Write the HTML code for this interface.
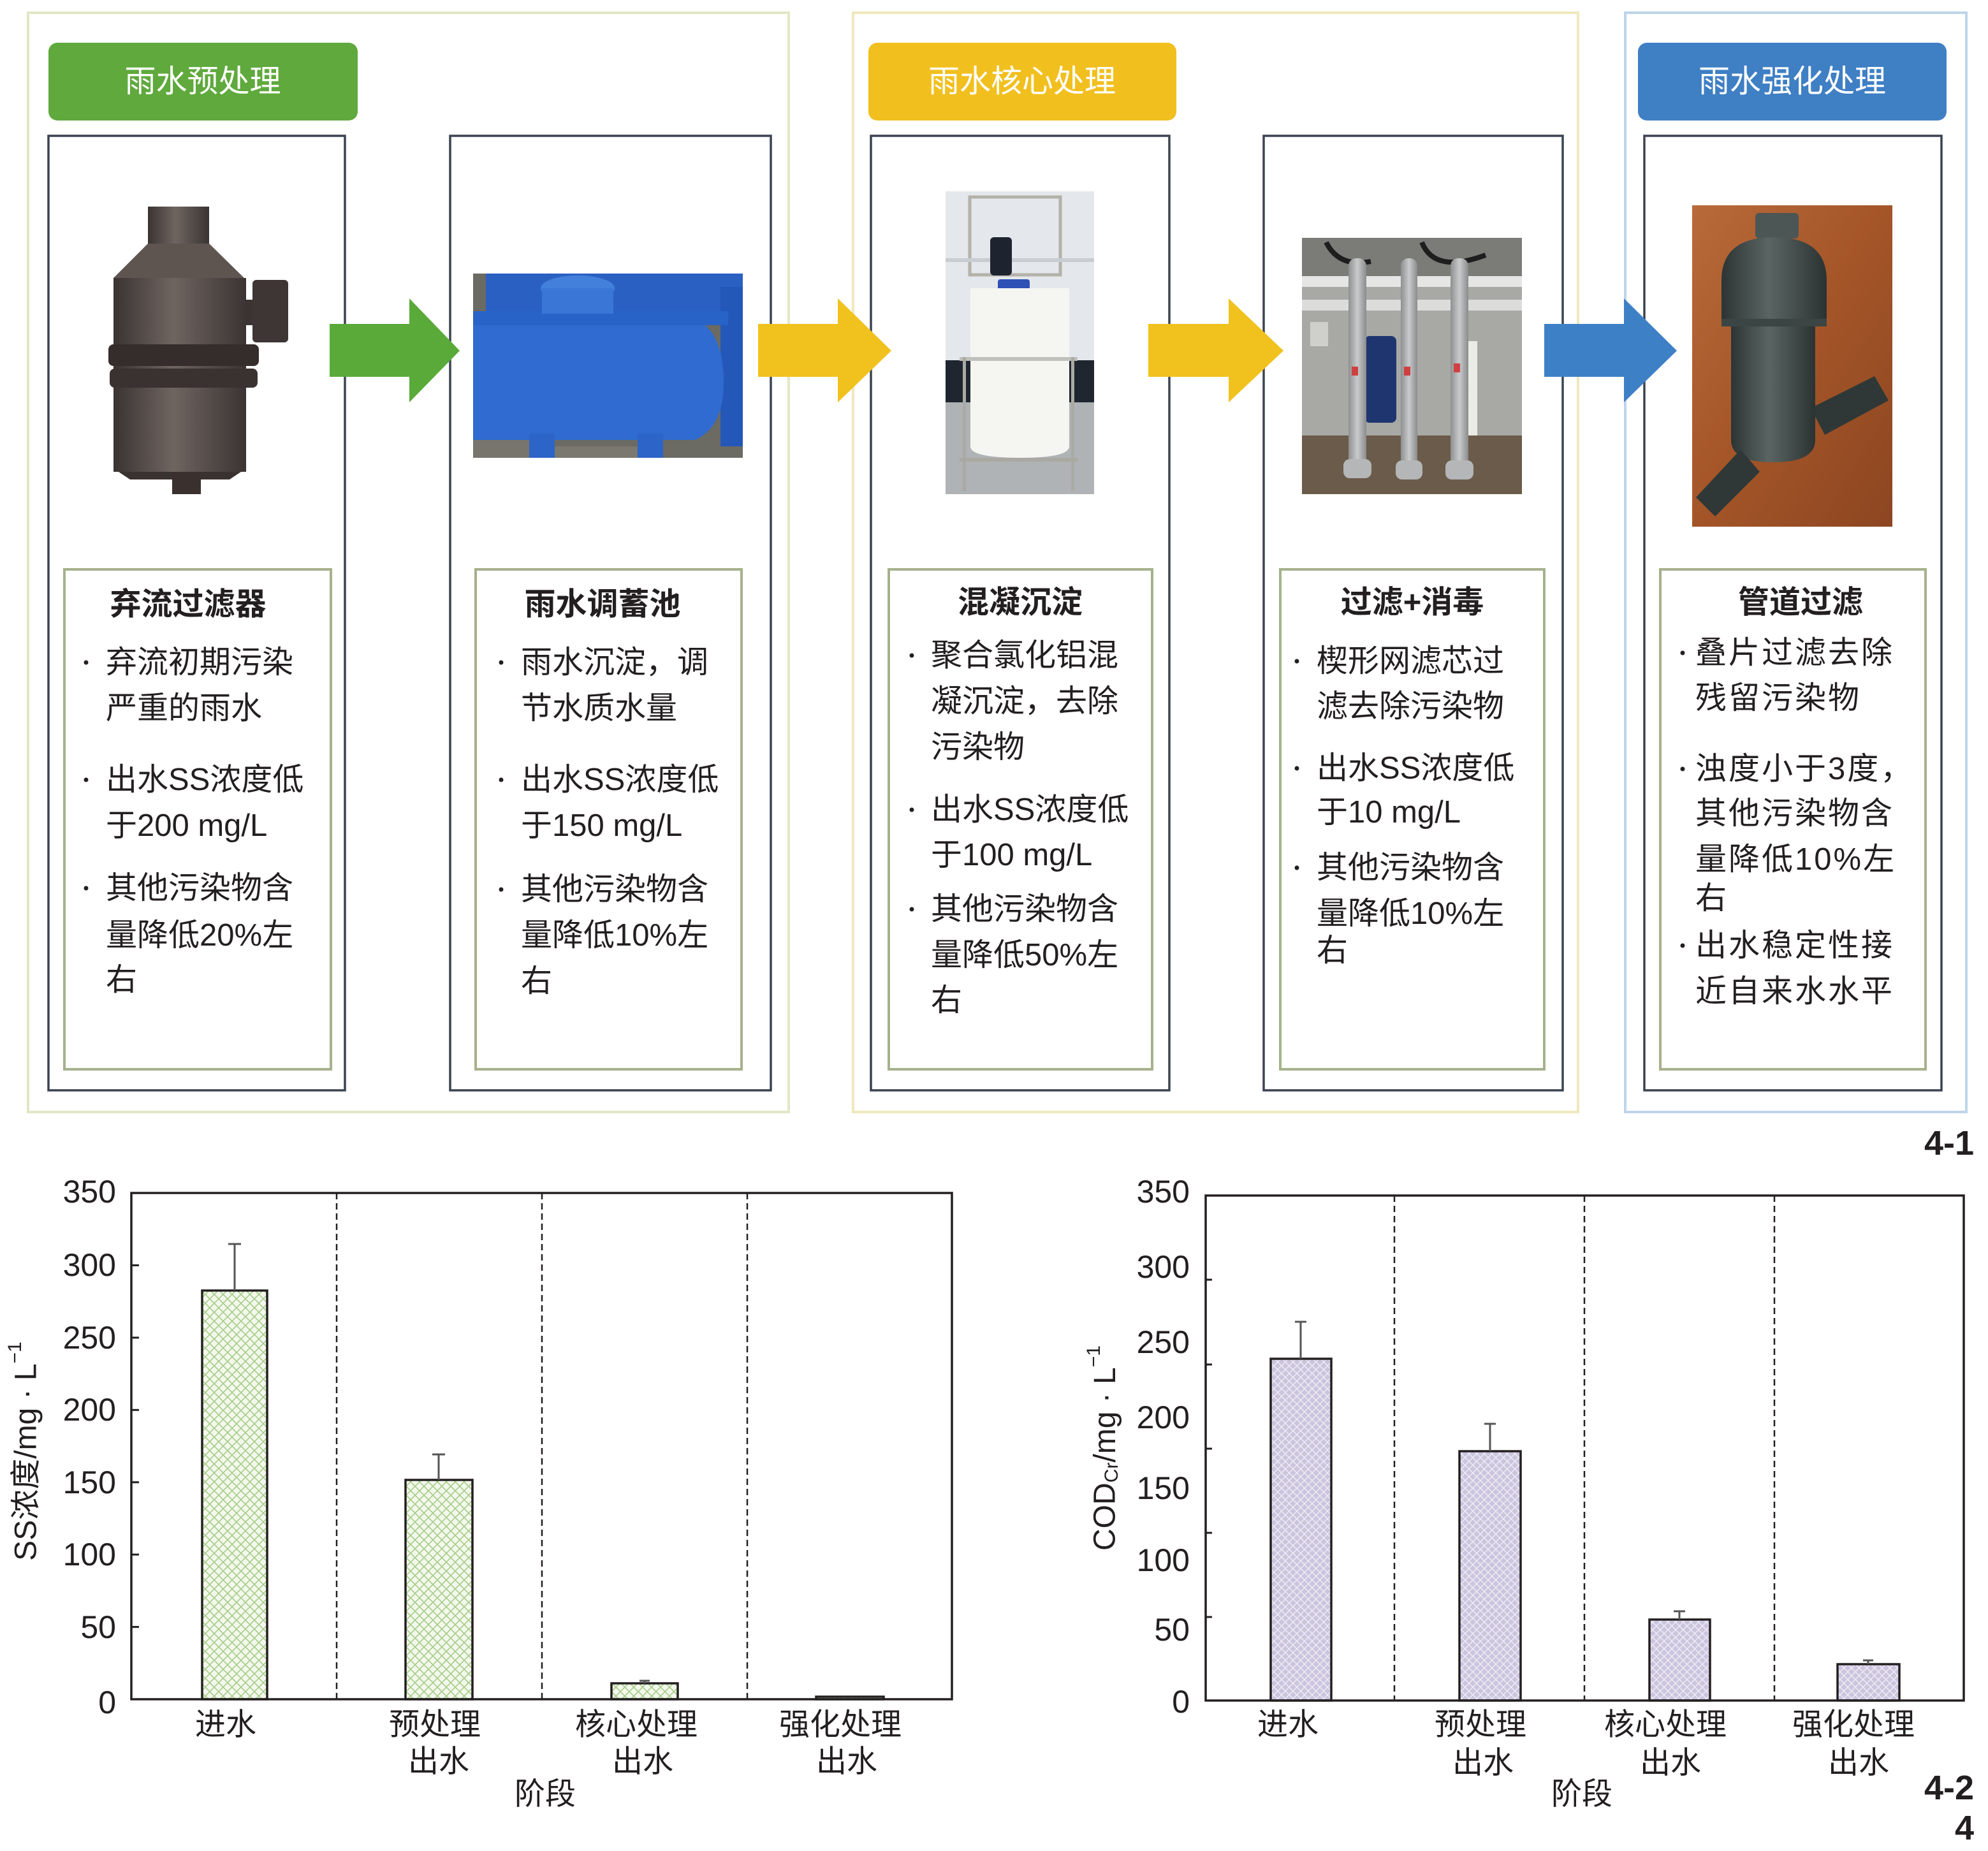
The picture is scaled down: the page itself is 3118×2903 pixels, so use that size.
<!DOCTYPE html>
<html>
<head>
<meta charset="utf-8">
<style>
html,body{margin:0;padding:0;background:#fff;}
body{width:3118px;height:2903px;overflow:hidden;}
svg{display:block;}
text{font-family:"Liberation Sans","Noto Sans CJK SC",sans-serif;fill:#231f20;}
.t{font-size:49px;}
.h{font-size:49px;font-weight:bold;}
.hd{font-size:49px;fill:#fff;}
.ax{font-size:50px;}
.xl{font-size:48px;}
</style>
</head>
<body>
<svg width="3118" height="2903" viewBox="0 0 3118 2903" xmlns="http://www.w3.org/2000/svg">
<defs>
  <pattern id="pg" width="14" height="14" patternUnits="userSpaceOnUse">
    <rect width="14" height="14" fill="#f3f8ec"/>
    <path d="M0,0 L14,14 M14,0 L0,14" stroke="#a6cc88" stroke-width="1.6"/>
  </pattern>
  <pattern id="pl" width="12" height="12" patternUnits="userSpaceOnUse">
    <rect width="12" height="12" fill="#cbc4de"/>
    <path d="M0,0 L12,12 M12,0 L0,12" stroke="#ece9f3" stroke-width="1.6"/>
  </pattern>
  <linearGradient id="gfil" x1="0" x2="1" y1="0" y2="0">
    <stop offset="0" stop-color="#3a3331"/>
    <stop offset="0.45" stop-color="#6e6561"/>
    <stop offset="1" stop-color="#3b3432"/>
  </linearGradient>
  <linearGradient id="gwood" x1="0" x2="1" y1="0" y2="1">
    <stop offset="0" stop-color="#b86a3a"/>
    <stop offset="0.5" stop-color="#a45528"/>
    <stop offset="1" stop-color="#8c4621"/>
  </linearGradient>
  <linearGradient id="gpipe" x1="0" x2="1" y1="0" y2="0">
    <stop offset="0" stop-color="#8e8f91"/>
    <stop offset="0.5" stop-color="#c9cacc"/>
    <stop offset="1" stop-color="#8a8b8d"/>
  </linearGradient>
  <linearGradient id="gdark" x1="0" x2="1" y1="0" y2="0">
    <stop offset="0" stop-color="#2c3534"/>
    <stop offset="0.45" stop-color="#5a6563"/>
    <stop offset="1" stop-color="#2b3332"/>
  </linearGradient>
</defs>

<!-- outer stage boxes -->
<rect x="44" y="20" width="1193" height="1724" fill="none" stroke="#e0e7c6" stroke-width="4"/>
<rect x="1338" y="20" width="1137" height="1724" fill="none" stroke="#efe8bc" stroke-width="4"/>
<rect x="2549" y="20" width="535" height="1724" fill="none" stroke="#bdd5e9" stroke-width="4"/>

<!-- headers -->
<rect x="76" y="67" width="485" height="122" rx="14" fill="#5fa93d"/>
<text class="hd" x="318" y="128" text-anchor="middle" dominant-baseline="central">雨水预处理</text>
<rect x="1362" y="67" width="483" height="122" rx="14" fill="#f1bf1e"/>
<text class="hd" x="1603" y="128" text-anchor="middle" dominant-baseline="central">雨水核心处理</text>
<rect x="2569" y="67" width="484" height="122" rx="14" fill="#3f7fc4"/>
<text class="hd" x="2811" y="128" text-anchor="middle" dominant-baseline="central">雨水强化处理</text>

<!-- inner boxes -->
<g fill="none" stroke="#3b4352" stroke-width="3.5">
<rect x="76" y="213" width="465" height="1497"/>
<rect x="706" y="213" width="503" height="1497"/>
<rect x="1366" y="213" width="468" height="1497"/>
<rect x="1982" y="213" width="469" height="1497"/>
<rect x="2579" y="213" width="466" height="1497"/>
</g>

<!-- text boxes -->
<g fill="#fff" stroke="#a5b18b" stroke-width="4">
<rect x="101" y="893" width="418" height="784"/>
<rect x="746" y="893" width="417" height="784"/>
<rect x="1394" y="893" width="413" height="784"/>
<rect x="2008" y="893" width="414" height="784"/>
<rect x="2604" y="893" width="416" height="784"/>
</g>

<!-- photo 1: filter -->
<g>
<rect x="232" y="324" width="96" height="60" fill="url(#gfil)"/>
<polygon points="232,382 328,382 383,436 178,436" fill="#5e5551"/>
<rect x="178" y="436" width="208" height="304" fill="url(#gfil)"/>
<rect x="384" y="470" width="14" height="40" fill="#3c3432"/>
<rect x="396" y="439" width="56" height="98" rx="6" fill="#3e3634"/>
<rect x="170" y="540" width="236" height="34" rx="8" fill="#342d2b"/>
<rect x="172" y="578" width="232" height="30" rx="8" fill="#3a3230"/>
<polygon points="186,740 378,740 360,752 204,752" fill="#3a3230"/>
<rect x="270" y="740" width="45" height="35" fill="#3a302e"/>
</g>

<!-- photo 2: blue tank -->
<g>
<rect x="742" y="429" width="423" height="289" fill="#6b6a63"/>
<rect x="762" y="429" width="403" height="70" fill="#2a60c2"/>
<rect x="1130" y="450" width="35" height="250" fill="#2458b8"/>
<path d="M742,500 L1090,500 Q1135,520 1135,600 Q1135,670 1090,690 L742,690 Z" fill="#2f6bd0"/>
<rect x="742" y="488" width="400" height="22" fill="#2863c8"/>
<ellipse cx="906" cy="452" rx="58" ry="20" fill="#4380dc"/>
<rect x="850" y="452" width="112" height="40" fill="#3a76d6"/>
<rect x="830" y="680" width="40" height="38" fill="#2c64c8"/>
<rect x="1000" y="680" width="40" height="38" fill="#2c64c8"/>
<rect x="742" y="690" width="88" height="28" fill="#77756c"/>
<rect x="870" y="700" width="130" height="18" fill="#7a786f"/>
</g>

<!-- photo 3: dosing tank -->
<g>
<rect x="1483" y="300" width="233" height="265" fill="#e4e7eb"/>
<rect x="1483" y="565" width="233" height="66" fill="#1f2630"/>
<rect x="1483" y="631" width="233" height="144" fill="#b0b3b5"/>
<rect x="1521" y="309" width="142" height="122" fill="none" stroke="#b3b1aa" stroke-width="5"/>
<rect x="1483" y="405" width="233" height="6" fill="#c9ccd0"/>
<rect x="1553" y="372" width="34" height="60" rx="6" fill="#1d2430"/>
<rect x="1565" y="438" width="50" height="22" rx="4" fill="#2e51b6"/>
<path d="M1522,452 L1677,452 L1677,700 Q1677,718 1600,718 Q1522,718 1522,700 Z" fill="#f5f5f2"/>
<rect x="1505" y="560" width="185" height="6" fill="#c0c0bc"/>
<rect x="1510" y="560" width="5" height="210" fill="#aaa9a4"/>
<rect x="1680" y="560" width="5" height="210" fill="#aaa9a4"/>
<rect x="1505" y="718" width="185" height="6" fill="#a9a8a3"/>
</g>

<!-- photo 4: filtration -->
<g>
<rect x="2042" y="373" width="345" height="402" fill="#a8a9a5"/>
<rect x="2042" y="373" width="345" height="60" fill="#7b7b77"/>
<path d="M2080,380 Q2100,420 2150,410 M2230,380 Q2250,430 2330,400" stroke="#1e1e1e" stroke-width="8" fill="none"/>
<rect x="2042" y="433" width="345" height="17" fill="#e5e6e4"/>
<rect x="2042" y="470" width="345" height="17" fill="#dcdddb"/>
<rect x="2055" y="505" width="28" height="38" fill="#cfd0cc"/>
<rect x="2140" y="527" width="50" height="136" rx="8" fill="#1f3570"/>
<rect x="2295" y="535" width="22" height="165" fill="#ebebe6"/>
<rect x="2042" y="683" width="345" height="92" fill="#6b5b4a"/>
<rect x="2115" y="405" width="28" height="342" rx="12" fill="url(#gpipe)"/>
<rect x="2197" y="405" width="26" height="342" rx="12" fill="url(#gpipe)"/>
<rect x="2275" y="405" width="28" height="342" rx="12" fill="url(#gpipe)"/>
<rect x="2107" y="720" width="44" height="30" rx="10" fill="#b4b6b8"/>
<rect x="2189" y="722" width="42" height="30" rx="10" fill="#b4b6b8"/>
<rect x="2267" y="722" width="44" height="30" rx="10" fill="#b4b6b8"/>
<rect x="2120" y="575" width="10" height="14" fill="#d04040"/>
<rect x="2202" y="575" width="10" height="14" fill="#d04040"/>
<rect x="2280" y="570" width="10" height="14" fill="#d04040"/>
</g>

<!-- photo 5: pipe filter -->
<g>
<rect x="2654" y="322" width="314" height="504" fill="url(#gwood)"/>
<path d="M2840,640 L2940,590 L2962,628 L2862,682 Z" fill="#2f3837"/>
<rect x="2753" y="334" width="68" height="40" rx="6" fill="#4b5655"/>
<path d="M2700,509 L2700,440 Q2700,372 2782,372 Q2865,372 2865,440 L2865,509 Z" fill="url(#gdark)"/>
<path d="M2715,509 L2847,509 L2847,690 Q2847,725 2781,725 Q2715,725 2715,690 Z" fill="url(#gdark)"/>
<path d="M2730,705 L2760,740 L2690,810 L2660,780 Z" fill="#2f3837"/>
<rect x="2700" y="500" width="165" height="12" fill="#3b4544"/>
</g>

<!-- arrows -->
<polygon points="517,508 642,508 642,468 721,550 642,631 642,591 517,591" fill="#5aaa3a"/>
<polygon points="1189,508 1314,508 1314,468 1398,550 1314,631 1314,591 1189,591" fill="#f1c21e"/>
<polygon points="1801,508 1927,508 1927,468 2013,550 1927,631 1927,591 1801,591" fill="#f1c21e"/>
<polygon points="2422,508 2547,508 2547,468 2630,550 2547,631 2547,591 2422,591" fill="#3e80c6"/>

<!-- text box 1 -->
<text class="h" x="295" y="948" text-anchor="middle" dominant-baseline="central">弃流过滤器</text>
<g class="t" dominant-baseline="central">
<text class="t" x="166" y="1039" dominant-baseline="central">弃流初期污染</text>
<text class="t" x="166" y="1111" dominant-baseline="central">严重的雨水</text>
<text class="t" x="166" y="1223" dominant-baseline="central">出水SS浓度低</text>
<text class="t" x="166" y="1295" dominant-baseline="central">于200 mg/L</text>
<text class="t" x="166" y="1393" dominant-baseline="central">其他污染物含</text>
<text class="t" x="166" y="1467" dominant-baseline="central">量降低20%左</text>
<text class="t" x="166" y="1537" dominant-baseline="central">右</text>
</g>
<circle cx="135" cy="1039" r="3.5" fill="#231f20"/>
<circle cx="135" cy="1223" r="3.5" fill="#231f20"/>
<circle cx="135" cy="1393" r="3.5" fill="#231f20"/>

<!-- text box 2 -->
<text class="h" x="945" y="948" text-anchor="middle" dominant-baseline="central">雨水调蓄池</text>
<text class="t" x="817" y="1039" dominant-baseline="central">雨水沉淀，调</text>
<text class="t" x="817" y="1111" dominant-baseline="central">节水质水量</text>
<text class="t" x="817" y="1223" dominant-baseline="central">出水SS浓度低</text>
<text class="t" x="817" y="1295" dominant-baseline="central">于150 mg/L</text>
<text class="t" x="817" y="1395" dominant-baseline="central">其他污染物含</text>
<text class="t" x="817" y="1467" dominant-baseline="central">量降低10%左</text>
<text class="t" x="817" y="1539" dominant-baseline="central">右</text>
<circle cx="786" cy="1039" r="3.5" fill="#231f20"/>
<circle cx="786" cy="1223" r="3.5" fill="#231f20"/>
<circle cx="786" cy="1395" r="3.5" fill="#231f20"/>

<!-- text box 3 -->
<text class="h" x="1600" y="945" text-anchor="middle" dominant-baseline="central">混凝沉淀</text>
<text class="t" x="1460" y="1028" dominant-baseline="central">聚合氯化铝混</text>
<text class="t" x="1460" y="1100" dominant-baseline="central">凝沉淀，去除</text>
<text class="t" x="1460" y="1172" dominant-baseline="central">污染物</text>
<text class="t" x="1460" y="1270" dominant-baseline="central">出水SS浓度低</text>
<text class="t" x="1460" y="1341" dominant-baseline="central">于100 mg/L</text>
<text class="t" x="1460" y="1426" dominant-baseline="central">其他污染物含</text>
<text class="t" x="1460" y="1498" dominant-baseline="central">量降低50%左</text>
<text class="t" x="1460" y="1569" dominant-baseline="central">右</text>
<circle cx="1430" cy="1028" r="3.5" fill="#231f20"/>
<circle cx="1430" cy="1270" r="3.5" fill="#231f20"/>
<circle cx="1430" cy="1426" r="3.5" fill="#231f20"/>

<!-- text box 4 -->
<text class="h" x="2215" y="945" text-anchor="middle" dominant-baseline="central">过滤+消毒</text>
<text class="t" x="2065" y="1037" dominant-baseline="central">楔形网滤芯过</text>
<text class="t" x="2065" y="1108" dominant-baseline="central">滤去除污染物</text>
<text class="t" x="2065" y="1205" dominant-baseline="central">出水SS浓度低</text>
<text class="t" x="2065" y="1274" dominant-baseline="central">于10 mg/L</text>
<text class="t" x="2065" y="1361" dominant-baseline="central">其他污染物含</text>
<text class="t" x="2065" y="1433" dominant-baseline="central">量降低10%左</text>
<text class="t" x="2065" y="1491" dominant-baseline="central">右</text>
<circle cx="2034" cy="1037" r="3.5" fill="#231f20"/>
<circle cx="2034" cy="1205" r="3.5" fill="#231f20"/>
<circle cx="2034" cy="1361" r="3.5" fill="#231f20"/>

<!-- text box 5 -->
<text class="h" x="2824" y="945" text-anchor="middle" dominant-baseline="central">管道过滤</text>
<g letter-spacing="3">
<text class="t" x="2659" y="1024" dominant-baseline="central" letter-spacing="3">叠片过滤去除</text>
<text class="t" x="2659" y="1095" dominant-baseline="central" letter-spacing="3">残留污染物</text>
<text class="t" x="2659" y="1206" dominant-baseline="central" letter-spacing="3">浊度小于3度，</text>
<text class="t" x="2659" y="1276" dominant-baseline="central" letter-spacing="3">其他污染物含</text>
<text class="t" x="2659" y="1348" dominant-baseline="central">量降低10%左</text>
<text class="t" x="2659" y="1409" dominant-baseline="central">右</text>
<text class="t" x="2659" y="1483" dominant-baseline="central" letter-spacing="3">出水稳定性接</text>
<text class="t" x="2659" y="1555" dominant-baseline="central" letter-spacing="3">近自来水水平</text>
</g>
<circle cx="2639" cy="1024" r="3.5" fill="#231f20"/>
<circle cx="2639" cy="1206" r="3.5" fill="#231f20"/>
<circle cx="2639" cy="1483" r="3.5" fill="#231f20"/>

<!-- figure labels -->
<text x="3096" y="1811" text-anchor="end" font-size="54" font-weight="bold">4-1</text>
<text x="3096" y="2822" text-anchor="end" font-size="54" font-weight="bold">4-2</text>
<text x="3096" y="2885" text-anchor="end" font-size="54" font-weight="bold">4</text>

<!-- ===== LEFT CHART ===== -->
<g stroke="#231f20" stroke-width="2.5" stroke-dasharray="10 6">
<line x1="528" y1="1871" x2="528" y2="2665"/>
<line x1="850" y1="1871" x2="850" y2="2665"/>
<line x1="1172" y1="1871" x2="1172" y2="2665"/>
</g>
<g stroke="#231f20" stroke-width="3">
<line x1="206" y1="2551.6" x2="218" y2="2551.6"/>
<line x1="206" y1="2438.1" x2="218" y2="2438.1"/>
<line x1="206" y1="2324.7" x2="218" y2="2324.7"/>
<line x1="206" y1="2211.3" x2="218" y2="2211.3"/>
<line x1="206" y1="2097.9" x2="218" y2="2097.9"/>
<line x1="206" y1="1984.4" x2="218" y2="1984.4"/>
</g>
<g stroke="#231f20" stroke-width="3.5" >
<rect x="317" y="2024" width="102" height="641" fill="url(#pg)"/>
<rect x="636" y="2321" width="105" height="344" fill="url(#pg)"/>
<rect x="959" y="2640" width="104" height="25" fill="url(#pg)"/>
<rect x="1280" y="2661" width="106" height="4" fill="url(#pg)"/>
</g>
<g stroke="#555" stroke-width="3">
<line x1="368" y1="2024" x2="368" y2="1951"/><line x1="358" y1="1951" x2="378" y2="1951"/>
<line x1="688" y1="2321" x2="688" y2="2281"/><line x1="678" y1="2281" x2="698" y2="2281"/>
<line x1="1011" y1="2640" x2="1011" y2="2636"/><line x1="1003" y1="2636" x2="1019" y2="2636"/>
</g>
<rect x="206" y="1871" width="1287" height="794" fill="none" stroke="#231f20" stroke-width="3.5"/>
<g class="ax" text-anchor="end">
<text class="ax" x="182" y="1869" dominant-baseline="central">350</text>
<text class="ax" x="182" y="1984" dominant-baseline="central">300</text>
<text class="ax" x="182" y="2098" dominant-baseline="central">250</text>
<text class="ax" x="182" y="2211" dominant-baseline="central">200</text>
<text class="ax" x="182" y="2325" dominant-baseline="central">150</text>
<text class="ax" x="182" y="2438" dominant-baseline="central">100</text>
<text class="ax" x="182" y="2552" dominant-baseline="central">50</text>
<text class="ax" x="182" y="2670" dominant-baseline="central">0</text>
</g>
<text class="xl" x="354" y="2705" text-anchor="middle" dominant-baseline="central">进水</text>
<text class="xl" x="682" y="2705" text-anchor="middle" dominant-baseline="central">预处理</text>
<text class="xl" x="688" y="2763" text-anchor="middle" dominant-baseline="central">出水</text>
<text class="xl" x="998" y="2705" text-anchor="middle" dominant-baseline="central">核心处理</text>
<text class="xl" x="1008" y="2763" text-anchor="middle" dominant-baseline="central">出水</text>
<text class="xl" x="1318" y="2705" text-anchor="middle" dominant-baseline="central">强化处理</text>
<text class="xl" x="1328" y="2763" text-anchor="middle" dominant-baseline="central">出水</text>
<text class="xl" x="855" y="2814" text-anchor="middle" dominant-baseline="central">阶段</text>
<text class="xl" transform="translate(41,2276) rotate(-90)" text-anchor="middle" dominant-baseline="central">SS浓度/mg · L<tspan font-size="30" dy="-18">−1</tspan></text>

<!-- ===== RIGHT CHART ===== -->
<g stroke="#231f20" stroke-width="2.5" stroke-dasharray="10 6">
<line x1="2187" y1="1875" x2="2187" y2="2667"/>
<line x1="2485" y1="1875" x2="2485" y2="2667"/>
<line x1="2783" y1="1875" x2="2783" y2="2667"/>
</g>
<g stroke="#231f20" stroke-width="3">
<line x1="1891" y1="2536" x2="1901" y2="2536"/>
<line x1="1891" y1="2404" x2="1901" y2="2404"/>
<line x1="1891" y1="2272" x2="1901" y2="2272"/>
<line x1="1891" y1="2140" x2="1901" y2="2140"/>
<line x1="1891" y1="2007" x2="1901" y2="2007"/>
</g>
<g stroke="#231f20" stroke-width="3.5">
<rect x="1993" y="2131" width="95" height="536" fill="url(#pl)"/>
<rect x="2289" y="2276" width="96" height="391" fill="url(#pl)"/>
<rect x="2587" y="2540" width="95" height="127" fill="url(#pl)"/>
<rect x="2882" y="2610" width="97" height="57" fill="url(#pl)"/>
</g>
<g stroke="#555" stroke-width="3">
<line x1="2040" y1="2131" x2="2040" y2="2073"/><line x1="2031" y1="2073" x2="2049" y2="2073"/>
<line x1="2337" y1="2276" x2="2337" y2="2233"/><line x1="2328" y1="2233" x2="2346" y2="2233"/>
<line x1="2634" y1="2540" x2="2634" y2="2527"/><line x1="2625" y1="2527" x2="2643" y2="2527"/>
<line x1="2930" y1="2610" x2="2930" y2="2604"/><line x1="2922" y1="2604" x2="2938" y2="2604"/>
</g>
<rect x="1891" y="1875" width="1189" height="792" fill="none" stroke="#231f20" stroke-width="3.5"/>
<g text-anchor="end">
<text class="ax" x="1866" y="1869" dominant-baseline="central">350</text>
<text class="ax" x="1866" y="1987" dominant-baseline="central">300</text>
<text class="ax" x="1866" y="2105" dominant-baseline="central">250</text>
<text class="ax" x="1866" y="2223" dominant-baseline="central">200</text>
<text class="ax" x="1866" y="2334" dominant-baseline="central">150</text>
<text class="ax" x="1866" y="2447" dominant-baseline="central">100</text>
<text class="ax" x="1866" y="2556" dominant-baseline="central">50</text>
<text class="ax" x="1866" y="2669" dominant-baseline="central">0</text>
</g>
<text class="xl" x="2020" y="2705" text-anchor="middle" dominant-baseline="central">进水</text>
<text class="xl" x="2322" y="2705" text-anchor="middle" dominant-baseline="central">预处理</text>
<text class="xl" x="2326" y="2765" text-anchor="middle" dominant-baseline="central">出水</text>
<text class="xl" x="2612" y="2705" text-anchor="middle" dominant-baseline="central">核心处理</text>
<text class="xl" x="2620" y="2765" text-anchor="middle" dominant-baseline="central">出水</text>
<text class="xl" x="2907" y="2705" text-anchor="middle" dominant-baseline="central">强化处理</text>
<text class="xl" x="2915" y="2765" text-anchor="middle" dominant-baseline="central">出水</text>
<text class="xl" x="2481" y="2814" text-anchor="middle" dominant-baseline="central">阶段</text>
<text class="xl" transform="translate(1733,2271) rotate(-90)" text-anchor="middle" dominant-baseline="central">COD<tspan font-size="30" dy="10">Cr</tspan><tspan dy="-10">/mg · L</tspan><tspan font-size="30" dy="-18">−1</tspan></text>
</svg>
</body>
</html>
